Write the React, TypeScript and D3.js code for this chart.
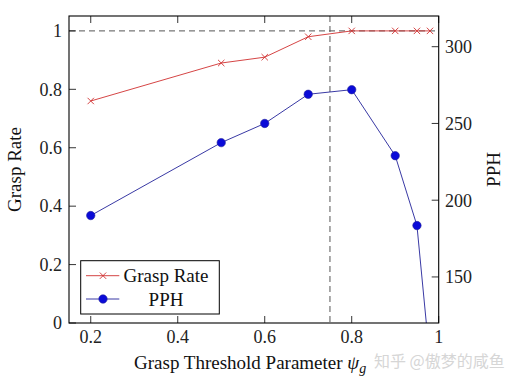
import React from "react";
import * as d3 from "d3";

const thresholds = [0.2, 0.5, 0.6, 0.7, 0.8, 0.9, 0.95, 0.98];
const graspRate = [0.76, 0.89, 0.91, 0.98, 1.0, 1.0, 1.0, 1.0];
const pph = [190, 237.5, 250, 269, 272, 229, 183.5, 95];
const xTicks = [0.2, 0.4, 0.6, 0.8, 1];
const yLeftTicks = [0, 0.2, 0.4, 0.6, 0.8, 1];
const yRightTicks = [150, 200, 250, 300];
const chosenThreshold = 0.75;

const W = 513, H = 380;
const L = 69, R = 438.7, T = 16, B = 323;
const serif = "'Liberation Serif', 'Noto Serif', Tinos, 'Nimbus Roman', 'Nimbus Roman No9 L', FreeSerif, 'DejaVu Serif', Times, serif";

export default function App() {
  const x = d3.scaleLinear().domain([0.15, 1.0]).range([L, R]);
  const yL = d3.scaleLinear().domain([0, 1.051]).range([B, T]);
  const yR = d3.scaleLinear().domain([120, 320]).range([B, T]);

  const grLine = d3.line<number>().x((_, i) => x(thresholds[i])).y((d) => yL(d))(graspRate) || "";
  const pphLine = d3.line<number>().x((_, i) => x(thresholds[i])).y((d) => yR(d))(pph) || "";

  const red = "#d03030";
  const blueLine = "#23239a";
  const blueMark = "#0a0ad8";
  const tick = 7;

  const cross = (cx: number, cy: number, k: string) => (
    <g key={k} stroke={red} strokeWidth={0.9}>
      <line x1={cx - 3.2} y1={cy - 3.2} x2={cx + 3.2} y2={cy + 3.2} />
      <line x1={cx - 3.2} y1={cy + 3.2} x2={cx + 3.2} y2={cy - 3.2} />
    </g>
  );

  return (
    <svg width={W} height={H} style={{ position: "absolute", left: 0, top: 0, background: "#fff" }}>
      <defs>
        <clipPath id="plotclip">
          <rect x={L} y={T} width={R - L} height={B - T} />
        </clipPath>
      </defs>
      <rect x={0} y={0} width={W} height={H} fill="#fff" />
      <line x1={L} x2={R} y1={yL(1)} y2={yL(1)} stroke="#555" strokeWidth={1} strokeDasharray="6,4" />
      <line x1={x(chosenThreshold)} x2={x(chosenThreshold)} y1={T} y2={B} stroke="#555" strokeWidth={1} strokeDasharray="6,4" />

      <g clipPath="url(#plotclip)">
        <path d={grLine} fill="none" stroke={red} strokeWidth={0.9} />
        {graspRate.map((v, i) => cross(x(thresholds[i]), yL(v), "c" + i))}
        <path d={pphLine} fill="none" stroke={blueLine} strokeWidth={0.9} />
        {pph.map((v, i) => (
          <circle key={"p" + i} cx={x(thresholds[i])} cy={yR(v)} r={4.2} fill={blueMark} stroke={blueLine} strokeWidth={0.6} />
        ))}
      </g>

      <rect x={L} y={T} width={R - L} height={B - T} fill="none" stroke="#000" strokeWidth={1.1} />

      {xTicks.map((t) => (
        <g key={"xt" + t}>
          <line x1={x(t)} x2={x(t)} y1={B} y2={B - tick} stroke="#000" strokeWidth={0.8} />
          <line x1={x(t)} x2={x(t)} y1={T} y2={T + tick} stroke="#000" strokeWidth={0.8} />
          <text x={x(t)} y={343} textAnchor="middle" style={{ fontFamily: serif }} fontSize={18} fill="#222">
            {String(t)}
          </text>
        </g>
      ))}
      {yLeftTicks.map((t) => (
        <g key={"yl" + t}>
          <line x1={L} x2={L + tick} y1={yL(t)} y2={yL(t)} stroke="#000" strokeWidth={0.8} />
          <text x={62} y={yL(t)} dy="0.35em" textAnchor="end" style={{ fontFamily: serif }} fontSize={18} fill="#222">
            {String(t)}
          </text>
        </g>
      ))}
      {yRightTicks.map((t) => (
        <g key={"yr" + t}>
          <line x1={R} x2={R - tick} y1={yR(t)} y2={yR(t)} stroke="#000" strokeWidth={0.8} />
          <text x={445} y={yR(t)} dy="0.35em" textAnchor="start" style={{ fontFamily: serif }} fontSize={18} fill="#222">
            {String(t)}
          </text>
        </g>
      ))}

      <text x={134} y={369} style={{ fontFamily: serif }} fontSize={19} fill="#111">
        Grasp Threshold Parameter <tspan fontStyle="italic">ψ</tspan>
        <tspan fontStyle="italic" fontSize={14} dy={4}>g</tspan>
      </text>
      <text transform={`translate(21,${(T + B) / 2}) rotate(-90)`} textAnchor="middle" style={{ fontFamily: serif }} fontSize={19} fill="#111">
        Grasp Rate
      </text>
      <text transform={`translate(500,${(T + B) / 2}) rotate(-90)`} textAnchor="middle" style={{ fontFamily: serif }} fontSize={19} fill="#111">
        PPH
      </text>

      <g>
        <rect x={80.7} y={260.7} width={138.6} height={53.3} fill="#fff" stroke="#000" strokeWidth={1} />
        <line x1={86} x2={119.3} y1={275.7} y2={275.7} stroke={red} strokeWidth={0.9} />
        {cross(103, 275.7, "lc")}
        <text x={166} y={275.7} dy="0.35em" textAnchor="middle" style={{ fontFamily: serif }} fontSize={19} fill="#111">
          Grasp Rate
        </text>
        <line x1={86} x2={119.3} y1={299} y2={299} stroke={blueLine} strokeWidth={0.9} />
        <circle cx={103} cy={299} r={4.2} fill={blueMark} stroke={blueLine} strokeWidth={0.6} />
        <text x={166} y={299} dy="0.35em" textAnchor="middle" style={{ fontFamily: serif }} fontSize={19} fill="#111">
          PPH
        </text>
      </g>

      <text x={374} y={367} style={{ fontFamily: "'Noto Sans CJK SC', sans-serif" }} fontSize={16} fill="#d6d6d6">
        知乎 @傲梦的咸鱼
      </text>
    </svg>
  );
}
